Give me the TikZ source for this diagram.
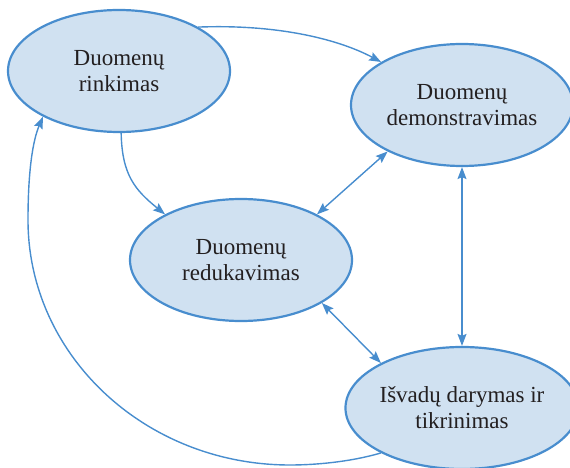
\documentclass[tikz,border=0pt]{standalone}
\usepackage{fontspec}
\setmainfont{Liberation Serif}
\usetikzlibrary{shapes.geometric,arrows.meta}
\definecolor{edgeblue}{RGB}{72,141,206}
\definecolor{fillblue}{RGB}{208,225,241}
\definecolor{inkgray}{RGB}{35,31,32}
\begin{document}
\begin{tikzpicture}[x=1pt,y=-1pt,
  stage/.style={ellipse,draw=edgeblue,fill=fillblue,line width=2.2pt,
    minimum width=222pt,minimum height=122pt,inner sep=0pt,
    align=center,text=inkgray,
    font=\fontsize{23}{26}\selectfont},
  link/.style={draw=edgeblue,line width=1.4pt,
    -{Stealth[length=12pt,width=9pt,inset=2pt]}},
  both/.style={link,{Stealth[length=12pt,width=9pt,inset=2pt]}-{Stealth[length=12pt,width=9pt,inset=2pt]}}]
\useasboundingbox (0,0) rectangle (570,468);

\node[stage] (collect) at (119,71) {Duomenų\\rinkimas};
\node[stage] (show) at (462,105) {Duomenų\\demonstravimas};
\node[stage] (reduce) at (241,260) {Duomenų\\redukavimas};
\node[stage] (conclude) at (462,408) {Išvadų darymas ir\\tikrinimas};

% collection feeds display and reduction
\draw[link] (collect.29) .. controls (280,24) and (340,40) .. (show.152);
\draw[link] (collect.272) .. controls (122,175) and (135,190) .. (reduce.149);

% two-way exchanges
\draw[both] (reduce.31) -- (show.212);
\draw[both] (reduce.332) -- (conclude.151);
\draw[both] (show.270) -- (conclude.90);

% conclusions loop back to collection
\draw[link] (conclude.209) .. controls (350,462) and (315,465) .. (290,465)
  .. controls (145,465) and (28,355) .. (28,220)
  .. controls (28,170) and (33,140) .. (collect.211);
\end{tikzpicture}
\end{document}
